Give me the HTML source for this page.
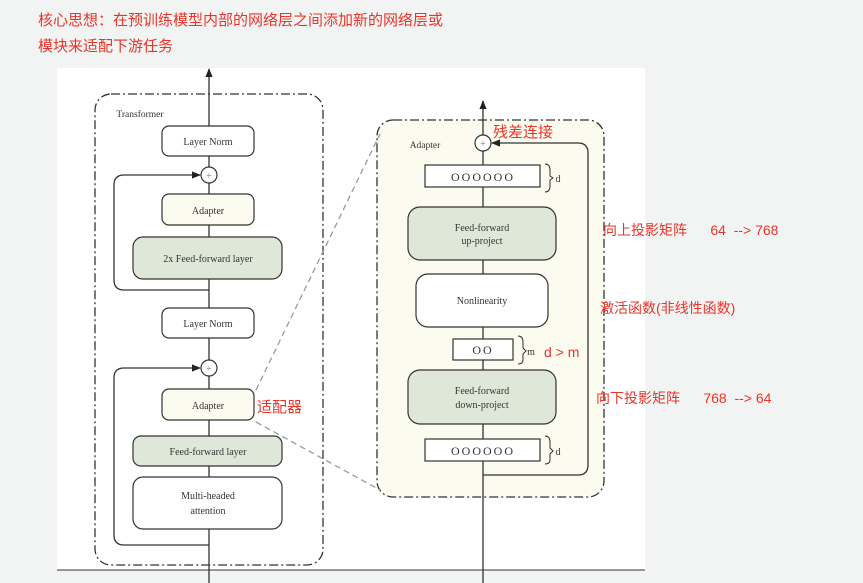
<!DOCTYPE html>
<html><head><meta charset="utf-8"><style>
body{margin:0;width:863px;height:583px;background:#f2f3f3;overflow:hidden;font-family:"Liberation Sans","Noto Sans CJK SC",sans-serif}
.t{position:absolute;color:#e8352a;font-size:15px;white-space:pre}
</style></head><body>
<div class="t" style="left:38px;top:9px">核心思想：在预训练模型内部的网络层之间添加新的网络层或</div>
<div class="t" style="left:38px;top:35px">模块来适配下游任务</div>
<svg width="863" height="583" style="position:absolute;left:0;top:0" font-family="Liberation Serif,serif" font-size="10" text-anchor="middle">
<defs><marker id="a" viewBox="0 0 10 10" refX="9" refY="5" markerWidth="7" markerHeight="7" orient="auto"><path d="M0,1 L10,5 L0,9z" fill="#222"/></marker></defs>
<rect x="57" y="68" width="588" height="502" fill="#fff"/>
<line x1="57" y1="570" x2="645" y2="570" stroke="#333"/>
<g stroke="#333" stroke-width="1.3" fill="none">
<rect x="95" y="94" width="228" height="471" rx="16" stroke-dasharray="9,3,2,3"/>
<rect x="377" y="120" width="227" height="377" rx="16" fill="#fbfbef" stroke-dasharray="9,3,2,3"/>
<line x1="209" y1="583" x2="209" y2="69" marker-end="url(#a)"/>
<path d="M209,290 H124 Q114,290 114,280 V185 Q114,175 124,175 H200" marker-end="url(#a)"/>
<path d="M209,545 H124 Q114,545 114,535 V378 Q114,368 124,368 H200" marker-end="url(#a)"/>
<line x1="483" y1="583" x2="483" y2="101" marker-end="url(#a)"/>
<path d="M483,475 H578 Q588,475 588,465 V153 Q588,143 578,143 H492" marker-end="url(#a)"/>
<line x1="256" y1="390" x2="380" y2="134" stroke="#999" stroke-dasharray="6,4"/>
<line x1="256" y1="422" x2="380" y2="490" stroke="#999" stroke-dasharray="6,4"/>
</g>
<g stroke="#333" stroke-width="1.2">
<rect x="162" y="126" width="92" height="30" rx="7" fill="#fff"/>
<circle cx="209" cy="175" r="8" fill="#fff"/>
<rect x="162" y="194" width="92" height="31" rx="7" fill="#fbfbef"/>
<rect x="133" y="237" width="149" height="42" rx="10" fill="#dfe8d8"/>
<rect x="162" y="308" width="92" height="30" rx="7" fill="#fff"/>
<circle cx="209" cy="368" r="8" fill="#fff"/>
<rect x="162" y="389" width="92" height="31" rx="7" fill="#fbfbef"/>
<rect x="133" y="436" width="149" height="30" rx="8" fill="#dfe8d8"/>
<rect x="133" y="477" width="149" height="52" rx="10" fill="#fff"/>
<circle cx="483" cy="143" r="8" fill="#fff"/>
<rect x="425" y="165" width="115" height="22" fill="#fff"/>
<rect x="408" y="207" width="148" height="53" rx="12" fill="#dfe8d8"/>
<rect x="416" y="274" width="132" height="53" rx="12" fill="#fff"/>
<rect x="453" y="339" width="60" height="21" fill="#fff"/>
<rect x="408" y="370" width="148" height="54" rx="12" fill="#dfe8d8"/>
<rect x="425" y="439" width="115" height="22" fill="#fff"/>
</g>
<g fill="none" stroke="#333">
<path d="M545,164 Q550,164 550,170 V176 L553,178 L550,180 V186 Q550,192 545,192"/>
<path d="M518,336 Q523,336 523,342 V348 L526,351 L523,354 V360 Q523,364 518,364"/>
<path d="M545,436 Q550,436 550,442 V448 L553,451 L550,454 V460 Q550,464 545,464"/>
</g>
<g fill="#333">
<text x="140" y="117" font-size="9.5">Transformer</text>
<text x="208" y="145">Layer Norm</text>
<text x="209" y="179" fill="#888">+</text>
<text x="208" y="214">Adapter</text>
<text x="208" y="262">2x Feed-forward layer</text>
<text x="208" y="327">Layer Norm</text>
<text x="209" y="372" fill="#888">+</text>
<text x="208" y="409">Adapter</text>
<text x="208" y="455">Feed-forward layer</text>
<text x="208" y="499">Multi-headed</text>
<text x="208" y="514">attention</text>
<text x="425" y="148" font-size="9.5">Adapter</text>
<text x="483" y="147" fill="#888">+</text>
<text x="483" y="181" font-size="12" letter-spacing="2">OOOOOO</text>
<text x="558" y="182">d</text>
<text x="482" y="231">Feed-forward</text>
<text x="482" y="244">up-project</text>
<text x="482" y="304">Nonlinearity</text>
<text x="483" y="354" font-size="12" letter-spacing="2">OO</text>
<text x="531" y="355">m</text>
<text x="482" y="394">Feed-forward</text>
<text x="482" y="408">down-project</text>
<text x="483" y="455" font-size="12" letter-spacing="2">OOOOOO</text>
<text x="558" y="455">d</text>
</g>
</svg>
<div class="t" style="left:257px;top:396px">适配器</div>
<div class="t" style="left:493px;top:121px">残差连接</div>
<div class="t" style="left:544px;top:344px;font-size:14px">d &gt; m</div>
<div class="t" style="left:603px;top:220px;font-size:14px">向上投影矩阵      64  --&gt; 768</div>
<div class="t" style="left:600px;top:298px;font-size:14px">激活函数(非线性函数)</div>
<div class="t" style="left:596px;top:388px;font-size:14px">向下投影矩阵      768  --&gt; 64</div>
</body></html>
